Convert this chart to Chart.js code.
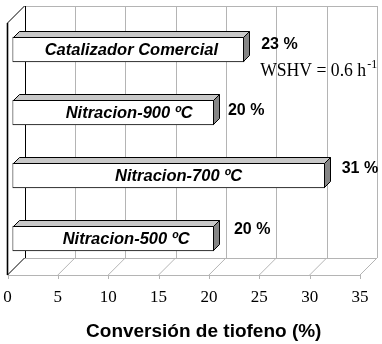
<!DOCTYPE html>
<html><head><meta charset="utf-8">
<script src="https://cdn.jsdelivr.net/npm/chart.js@4/dist/chart.umd.min.js"></script>
<style>html,body{margin:0;padding:0;background:#fff;}canvas{display:block;}</style>
</head><body>
<canvas id="c" width="382" height="344"></canvas>
<script>
// ---- data ----
const categories = ['Catalizador Comercial', 'Nitracion-900 ºC', 'Nitracion-700 ºC', 'Nitracion-500 ºC'];
const conversion = [23, 20, 31, 20];
const valueLabels = ['23 %', '20 %', '31 %', '20 %'];
const xTicks = [0, 5, 10, 15, 20, 25, 30, 35];
const axisTitle = 'Conversión de tiofeno (%)';
const noteText = 'WSHV = 0.6 h';
const noteSup = '-1';

// ---- styles ----
const FRONT = {dx: -5, dy: 5};
const BACK = {dx: 12, dy: -12};
const BAR_D = 6;
const innerShift = [3, 16, 10, 13];
const valueShift = [{dx: 17, dy: -4.5}, {dx: 14, dy: -1.5}, {dx: 17, dy: -6.5}, {dx: 20, dy: -8.5}];
const SANS = '"Liberation Sans", Arial, sans-serif';
const SERIF = '"Liberation Serif", "Times New Roman", serif';

function seg(ctx, x1, y1, x2, y2) { ctx.moveTo(x1, y1); ctx.lineTo(x2, y2); }
const px = v => Math.round(v) + 0.5;

const threeD = {
  id: 'threeD',
  beforeDatasetsDraw(chart) {
    const {ctx, chartArea: a, scales: {x}} = chart;
    const L = a.left, R = a.right, T = a.top, B = a.bottom;
    ctx.save();
    ctx.lineWidth = 1;
    ctx.strokeStyle = '#b4b4b4';
    ctx.beginPath();
    seg(ctx, L + BACK.dx, px(T + BACK.dy), R + BACK.dx, px(T + BACK.dy));
    seg(ctx, L + BACK.dx, px(B + BACK.dy), R + BACK.dx, px(B + BACK.dy));
    seg(ctx, L + FRONT.dx, px(B + FRONT.dy), R + FRONT.dx, px(B + FRONT.dy));
    xTicks.forEach(v => {
      const p = x.getPixelForValue(v);
      if (v > 0) {
        seg(ctx, px(p + BACK.dx), T + BACK.dy, px(p + BACK.dx), B + BACK.dy);
        seg(ctx, p + FRONT.dx, B + FRONT.dy, p + BACK.dx, B + BACK.dy);
      }
      seg(ctx, px(p + FRONT.dx), B + FRONT.dy, px(p + FRONT.dx), B + FRONT.dy + 4);
    });
    ctx.stroke();
    // left wall
    ctx.strokeStyle = '#000';
    ctx.beginPath();
    seg(ctx, L + FRONT.dx, T + FRONT.dy, L + BACK.dx, T + BACK.dy);
    seg(ctx, L + FRONT.dx, B + FRONT.dy, L + BACK.dx, B + BACK.dy);
    seg(ctx, px(L + BACK.dx), T + BACK.dy, px(L + BACK.dx), B + BACK.dy);
    ctx.stroke();
    ctx.lineWidth = 1.6;
    ctx.beginPath();
    seg(ctx, L + FRONT.dx, T + FRONT.dy, L + FRONT.dx, B + FRONT.dy);
    ctx.stroke();
    ctx.restore();
  },
  afterDatasetsDraw(chart) {
    const {ctx, chartArea: a} = chart;
    const meta = chart.getDatasetMeta(0);
    ctx.save();
    ctx.lineWidth = 1;
    ctx.strokeStyle = '#000';
    meta.data.forEach((el, i) => {
      const {x, y, base, height} = el.getProps(['x', 'y', 'base', 'height'], true);
      const x0 = Math.round(base) + 0.5, x1 = Math.round(x) - 0.5;
      const yt = Math.round(y - height / 2) + 0.5, yb = Math.round(y + height / 2) - 0.5;
      // top face
      ctx.fillStyle = '#c8c8c8';
      ctx.beginPath();
      ctx.moveTo(x0, yt); ctx.lineTo(x1, yt); ctx.lineTo(x1 + BAR_D, yt - BAR_D); ctx.lineTo(x0 + BAR_D, yt - BAR_D);
      ctx.closePath(); ctx.fill(); ctx.stroke();
      // side face
      ctx.fillStyle = '#858585';
      ctx.beginPath();
      ctx.moveTo(x1, yt); ctx.lineTo(x1 + BAR_D, yt - BAR_D); ctx.lineTo(x1 + BAR_D, yb - BAR_D); ctx.lineTo(x1, yb);
      ctx.closePath(); ctx.fill(); ctx.stroke();
      // inner label
      ctx.fillStyle = '#000';
      ctx.font = 'bold italic 16.5px ' + SANS;
      ctx.textAlign = 'center';
      ctx.textBaseline = 'middle';
      ctx.fillText(categories[i], (base + x) / 2 + innerShift[i], y + 1);
      // value label
      ctx.font = 'bold 16px ' + SANS;
      ctx.textAlign = 'left';
      ctx.fillText(valueLabels[i], x + valueShift[i].dx, y + valueShift[i].dy);
    });
    // note
    const el0 = meta.data[0].getProps(['x', 'y'], true);
    ctx.font = '19px ' + SERIF;
    ctx.textAlign = 'left';
    ctx.textBaseline = 'alphabetic';
    const nx = el0.x + 16, ny = el0.y + 26;
    ctx.fillText(noteText, nx, ny, 106);
    const w = Math.min(ctx.measureText(noteText).width, 106);
    ctx.font = '12px ' + SERIF;
    ctx.fillText(noteSup, nx + w + 1, ny - 8);
    // axis title
    ctx.font = 'bold 19px ' + SANS;
    ctx.textAlign = 'center';
    ctx.fillText(axisTitle, (a.left + a.right) / 2 + 15, 337);
    ctx.restore();
  }
};

new Chart(document.getElementById('c'), {
  type: 'bar',
  data: {
    labels: categories,
    datasets: [{
      data: conversion,
      backgroundColor: '#ffffff',
      borderColor: '#000000',
      borderWidth: 1,
      borderSkipped: false,
      barThickness: 25
    }]
  },
  options: {
    indexAxis: 'y',
    responsive: false,
    animation: false,
    devicePixelRatio: 1,
    layout: {padding: {left: 12.5, right: 17, top: 18, bottom: 0}},
    plugins: {legend: {display: false}, tooltip: {enabled: false}},
    scales: {
      y: {display: false},
      x: {
        min: 0, max: 35,
        grid: {display: false, drawTicks: false},
        border: {display: false},
        afterBuildTicks: s => { s.ticks = xTicks.map(v => ({value: v})); },
        afterFit: s => { s.height = 74; s.paddingLeft = 0; s.paddingRight = 0; },
        ticks: {
          font: {family: '"Liberation Serif", "Times New Roman", serif', size: 17},
          color: '#000',
          padding: 17,
          labelOffset: -5,
          maxRotation: 0,
          autoSkip: false
        }
      }
    }
  },
  plugins: [threeD]
});
</script>
</body></html>
